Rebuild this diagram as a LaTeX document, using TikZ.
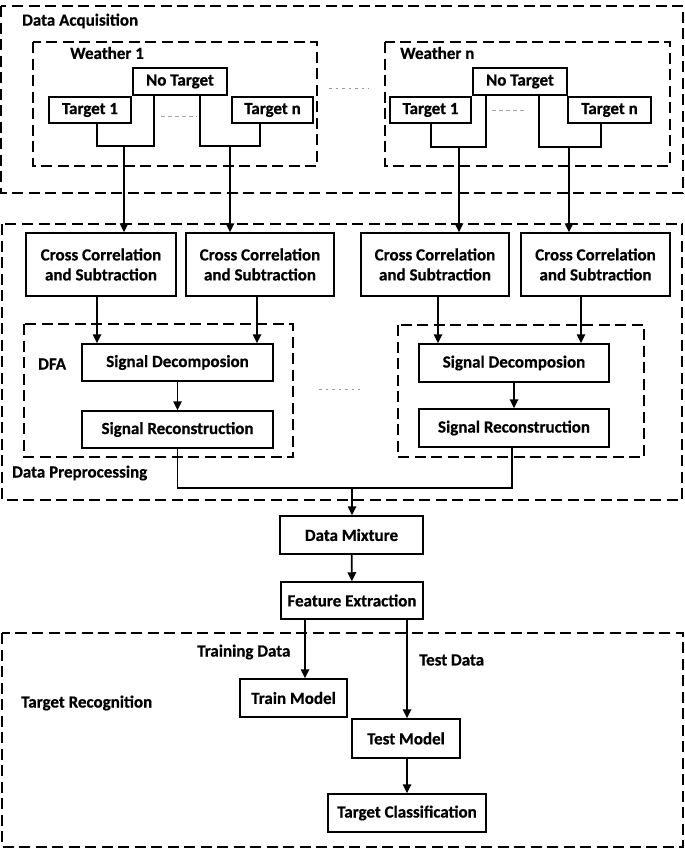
\documentclass[tikz,border=0pt]{standalone}
\usepackage{fontspec}
\setmainfont{Carlito}[BoldFeatures={FakeBold=0.6}]
\usetikzlibrary{arrows.meta}
\begin{document}
\begin{tikzpicture}[x=1pt,y=-1pt,
  txt/.style={font=\bfseries\fontsize{17}{19}\selectfont},
  box/.style={draw, line width=1.5pt, inner sep=0pt, align=center, txt},
  grp/.style={draw, line width=2.1pt, dash pattern=on 11pt off 5.5pt},
  lbl/.style={txt, inner sep=0pt, anchor=west},
  conn/.style={line width=1.7pt},
  arr/.style={conn, -{Triangle[length=9pt,width=8.5pt]}},
  dotl/.style={gray!80, line width=1pt, dash pattern=on 2.5pt off 4pt},
  midl/.style={gray!70, line width=0.8pt, dash pattern=on 4pt off 3pt}]
\useasboundingbox (0,0) rectangle (685,849);

% ---------- Data Acquisition ----------
\draw[grp] (1,6) rectangle (683,193);
\node[lbl] (lda) at (22,21) {Data Acquisition};
\draw[grp] (33,42) rectangle (317,166);
\draw[grp] (385,42) rectangle (670,166);
\node[lbl] (lw1) at (70,53) {Weather 1};
\node[lbl] (lwn) at (400,53) {Weather n};
\draw[dotl] (329,88) -- (369,88);

\node[box, minimum width=94pt, minimum height=27pt] (nt1) at (180,81.5) {No Target};
\node[box, minimum width=82pt, minimum height=26pt] (t11) at (90,110) {Target 1};
\node[box, minimum width=81pt, minimum height=26pt] (t1n) at (272.5,110) {Target n};
\draw[midl] (161,116) -- (197,116);

\node[box, minimum width=94pt, minimum height=27pt] (nt2) at (520,81.5) {No Target};
\node[box, minimum width=81pt, minimum height=26pt] (t21) at (430.5,110) {Target 1};
\node[box, minimum width=83pt, minimum height=26pt] (t2n) at (609.5,110) {Target n};
\draw[midl] (492,110) -- (527,110);

% ---------- Data Preprocessing ----------
\draw[grp] (2,224) rectangle (682,500);
\node[lbl] (ldp) at (12,473) {Data Preprocessing};

\foreach \n/\x/\w in {cc1/101/150, cc2/260/148, cc3/435/148, cc4/595.5/149}
  \node[box, minimum width=\w pt, minimum height=63pt] (\n) at (\x,264.5)
    {Cross Correlation\\[1pt]and Subtraction};

\draw[grp] (24,324) rectangle (293,457);
\draw[grp] (398,325) rectangle (644,457);
\node[lbl] (ldfa) at (38,364) {DFA};
\draw[dotl] (319,389) -- (360,389);

\node[box, minimum width=191pt, minimum height=37pt] (sd1) at (177.5,362.5) {Signal Decomposion};
\node[box, minimum width=191pt, minimum height=37pt] (sr1) at (177.5,429.5) {Signal Reconstruction};
\node[box, minimum width=190pt, minimum height=38pt] (sd2) at (514,363) {Signal Decomposion};
\node[box, minimum width=190pt, minimum height=38pt] (sr2) at (514,428) {Signal Reconstruction};

% ---------- middle ----------
\node[box, minimum width=143pt, minimum height=38pt] (dm) at (351.5,535) {Data Mixture};
\node[box, minimum width=142pt, minimum height=37pt] (fe) at (352,600.5) {Feature Extraction};

% ---------- Target Recognition ----------
\draw[grp] (2,633) rectangle (683,847);
\node[lbl] (ltr) at (21,703) {Target Recognition};
\node[lbl] (ltd) at (197,652) {Training Data};
\node[lbl] (lte) at (419,660) {Test Data};
\node[box, minimum width=107pt, minimum height=38pt] (trm) at (293.5,698) {Train Model};
\node[box, minimum width=108pt, minimum height=39pt] (tsm) at (406,738.5) {Test Model};
\node[box, minimum width=158pt, minimum height=38pt] (tc) at (407,813) {Target Classification};

% ---------- connectors ----------
\coordinate (j1) at (124,146);
\coordinate (j2) at (230,146);
\coordinate (j3) at (459,147);
\coordinate (j4) at (569,147);
\draw[conn] ([xshift=7pt]t11.south) |- (j1) -| ([xshift=-26pt]nt1.south);
\draw[conn] ([xshift=20pt]nt1.south) |- (j2) -| ([xshift=-12.5pt]t1n.south);
\draw[conn] ([xshift=0.5pt]t21.south) |- (j3) -| ([xshift=-34pt]nt2.south);
\draw[conn] ([xshift=19pt]nt2.south) |- (j4) -| ([xshift=-8.5pt]t2n.south);
\draw[arr] (j1) -- (j1 |- cc1.north);
\draw[arr] (j2) -- (j2 |- cc2.north);
\draw[arr] (j3) -- (j3 |- cc3.north);
\draw[arr] (j4) -- (j4 |- cc4.north);

\coordinate (a1) at ([xshift=-4pt]cc1.south);
\coordinate (a2) at ([xshift=-3pt]cc2.south);
\coordinate (a3) at ([xshift=3pt]cc3.south);
\coordinate (a4) at ([xshift=-14.5pt]cc4.south);
\draw[arr] (a1) -- (a1 |- sd1.north);
\draw[arr] (a2) -- (a2 |- sd1.north);
\draw[arr] (a3) -- (a3 |- sd2.north);
\draw[arr] (a4) -- (a4 |- sd2.north);
\draw[arr] (sd1) -- (sr1);
\draw[arr] (sd2) -- (sr2);

\coordinate (m1) at (352,488);
\draw[conn] (sr1.south) |- (m1) -| ([xshift=-2pt]sr2.south);
\draw[arr] (m1) -- (m1 |- dm.north);
\draw[arr] (dm) -- (fe);

\coordinate (f1) at ([xshift=-47pt]fe.south);
\coordinate (f2) at ([xshift=55pt]fe.south);
\draw[arr] (f1) -- (f1 |- trm.north);
\draw[arr] (f2) -- (f2 |- tsm.north);
\draw[arr] (tsm.south -| f2) -- (tc.north -| f2);
\end{tikzpicture}
\end{document}
